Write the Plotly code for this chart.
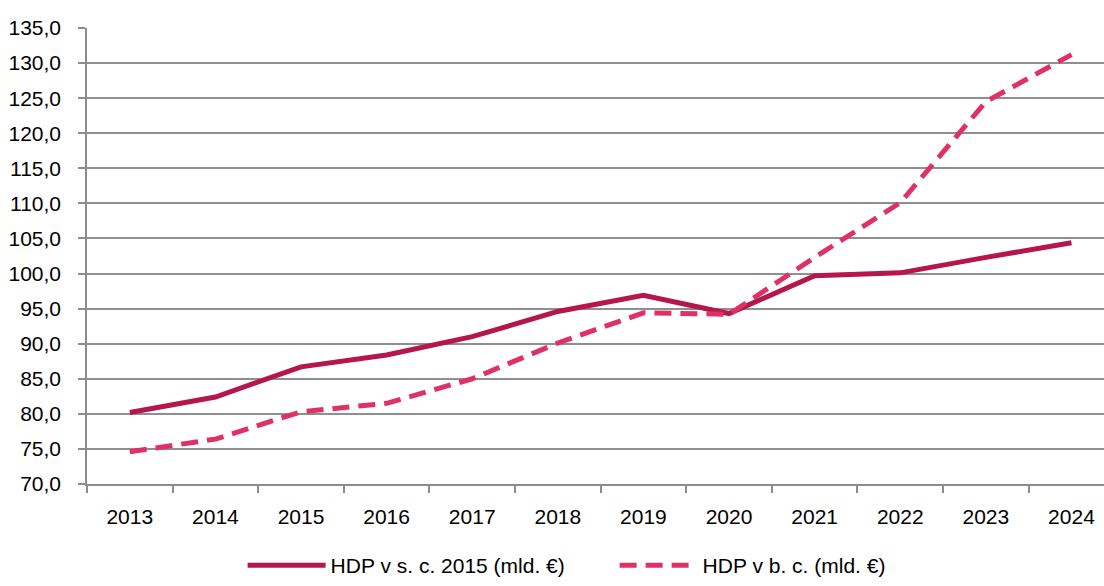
import plotly.graph_objects as go

years = ["2013", "2014", "2015", "2016", "2017", "2018", "2019", "2020", "2021", "2022", "2023", "2024"]
hdp_sc2015 = [80.2, 82.4, 86.7, 88.4, 91.0, 94.6, 96.9, 94.3, 99.7, 100.1, 102.3, 104.4]
hdp_bc = [74.6, 76.4, 80.3, 81.5, 85.0, 90.1, 94.4, 94.2, 102.3, 110.1, 124.5, 131.2]
y_ticks = [70, 75, 80, 85, 90, 95, 100, 105, 110, 115, 120, 125, 130, 135]

FONT = "Liberation Sans Narrow, Arial Narrow, Liberation Sans, Arial, sans-serif"

fig = go.Figure()
fig.add_trace(go.Scatter(
    x=years, y=hdp_sc2015, mode="lines", name="HDP v s. c. 2015 (mld. €)",
    line=dict(color="#B5174B", width=5),
))
fig.add_trace(go.Scatter(
    x=years, y=hdp_bc, mode="lines", name="HDP v b. c. (mld. €)",
    line=dict(color="#E03166", width=5, dash="17px,9px"),
))

fig.update_layout(
    width=1104, height=586,
    margin=dict(l=87, r=0, t=28, b=102),
    paper_bgcolor="white", plot_bgcolor="white",
    separators=", ",
    font=dict(family=FONT, size=21, color="#000000"),
    showlegend=True,
    legend=dict(orientation="h", x=0.153, xanchor="left", y=-0.2237, yanchor="bottom",
                font=dict(size=21), itemwidth=78, traceorder="normal",
                entrywidth=279, entrywidthmode="pixels"),
    xaxis=dict(
        type="category", range=[-0.5, 11.38], automargin=False,
        showgrid=False, showline=True, linecolor="#8C8C8C", linewidth=1.5,
        ticks="outside", tickson="boundaries", ticklen=7, tickcolor="#8C8C8C", tickwidth=1.5,
        ticklabelstandoff=13,
    ),
    yaxis=dict(
        range=[70, 135], tickvals=y_ticks, tickformat=".1f", automargin=False,
        showgrid=True, gridcolor="#8F8F8F", gridwidth=1.5,
        showline=True, linecolor="#8C8C8C", linewidth=1.5,
        ticks="outside", ticklen=7, tickcolor="#8C8C8C", tickwidth=1.5,
        ticklabelstandoff=13, zeroline=False,
    ),
)

css = ("document.documentElement.style.cssText='margin:0;padding:0;overflow:hidden;height:586px;width:1104px;';"
       "document.body.style.cssText='margin:0;padding:0;overflow:hidden;height:586px;width:1104px;';")
fig.write_html("out.html", post_script=css, config={"displayModeBar": False})
